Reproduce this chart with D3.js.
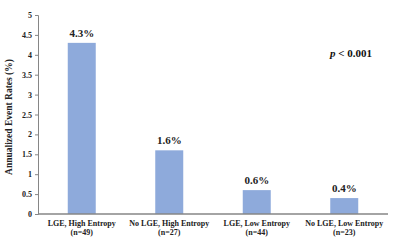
<!DOCTYPE html>
<html>
<head>
<meta charset="utf-8">
<script src="https://cdn.jsdelivr.net/npm/d3@7"></script>
<style>
  html, body { margin: 0; padding: 0; background: #fff; }
  text { font-family: "Liberation Serif", "Times New Roman", serif; }
</style>
</head>
<body>
<div id="container"></div>
<script>
const width = 400, height = 245;

// Data
const groups = ["LGE, High Entropy", "No LGE, High Entropy", "LGE, Low Entropy", "No LGE, Low Entropy"];
const counts = ["(n=49)", "(n=27)", "(n=44)", "(n=23)"];
const rates = [4.3, 1.6, 0.6, 0.4];
const yTicks = [0, 0.5, 1, 1.5, 2, 2.5, 3, 3.5, 4, 4.5, 5];

const svg = d3.select("#container").append("svg")
  .attr("width", width).attr("height", height);

// Scales
const x = d3.scaleBand().domain(groups).range([38, 388])
  .paddingInner(0.68).paddingOuter(0.34);
const y = d3.scaleLinear().domain([0, 5]).range([214, 15]);

// Bars
svg.selectAll("rect.bar").data(rates).join("rect")
  .attr("class", "bar")
  .attr("x", (d, i) => x(groups[i]))
  .attr("y", (d) => y(d))
  .attr("width", x.bandwidth())
  .attr("height", (d) => y(0) - y(d))
  .attr("fill", "#8eaadb");

// Value labels
svg.selectAll("text.val").data(rates).join("text")
  .attr("class", "val")
  .attr("x", (d, i) => x(groups[i]) + x.bandwidth() / 2)
  .attr("y", (d) => y(d) - 6)
  .attr("text-anchor", "middle")
  .style("font-size", "11px")
  .style("font-weight", "bold")
  .attr("fill", "#222")
  .text((d) => d.toFixed(1) + "%");

// Y axis
const yAxis = svg.append("g")
  .attr("transform", `translate(38,0)`)
  .call(d3.axisLeft(y).tickValues(yTicks).tickFormat((d) => d).tickSizeOuter(0).tickSize(3).tickPadding(3));
yAxis.select(".domain").attr("stroke", "#868686");
yAxis.selectAll("line").attr("stroke", "#868686");
yAxis.selectAll("text")
  .attr("fill", "#222")
  .style("font-family", "Liberation Serif, serif")
  .style("font-size", "8px")
  .style("font-weight", "bold");

// X axis baseline
svg.append("line")
  .attr("x1", 38).attr("x2", 388)
  .attr("y1", y(0)).attr("y2", y(0))
  .attr("stroke", "#868686").attr("stroke-width", 1.5);

// Category labels
const xl = svg.selectAll("text.cat").data(groups).join("text")
  .attr("class", "cat")
  .attr("text-anchor", "middle")
  .style("font-size", "8px")
  .style("font-weight", "bold")
  .attr("fill", "#222");
xl.append("tspan")
  .attr("x", (d) => x(d) + x.bandwidth() / 2)
  .attr("y", 226)
  .text((d) => d);
xl.append("tspan")
  .attr("x", (d) => x(d) + x.bandwidth() / 2)
  .attr("y", 235)
  .text((d, i) => counts[i]);

// Y axis title
svg.append("text")
  .attr("transform", "translate(12,117) rotate(-90)")
  .attr("text-anchor", "middle")
  .style("font-size", "9.5px")
  .style("font-weight", "bold")
  .attr("fill", "#222")
  .text("Annualized Event Rates (%)");

// p-value annotation
const p = svg.append("text")
  .attr("x", 330).attr("y", 57)
  .style("font-size", "11px")
  .style("font-weight", "bold")
  .attr("fill", "#111");
p.append("tspan").style("font-style", "italic").text("p");
p.append("tspan").text(" < 0.001");
</script>
</body>
</html>
